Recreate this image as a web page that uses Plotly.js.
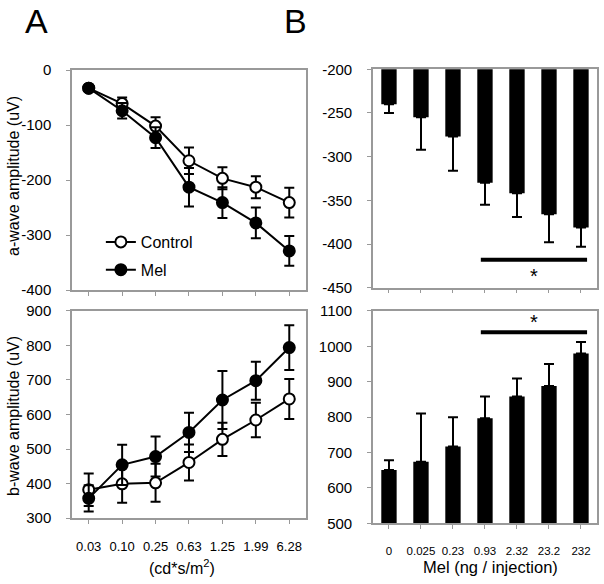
<!DOCTYPE html>
<html>
<head>
<meta charset="utf-8">
<script src="https://cdn.plot.ly/plotly-3.0.1.min.js"></script>
<style>
  html, body { margin: 0; padding: 0; background: #fff; }
  #myDiv { width: 604px; height: 584px; }
</style>
</head>
<body>
<div id="myDiv"></div>
<script>
// panel A: flash intensities
var intensity = ['0.03', '0.10', '0.25', '0.63', '1.25', '1.99', '6.28'];

var aCtrl = [-33, -61, -102, -165, -197, -213, -241];
var aCtrlErr = [5, 11, 16, 24, 20, 20, 27];
var aMel = [-33, -74, -123, -213, -241, -278, -329];
var aMelErr = [5, 14, 19, 35, 28, 28, 27];

var bCtrl = [382, 399, 402, 461, 528, 584, 645];
var bCtrlErr = [47, 55, 55, 52, 48, 50, 58];
var bMel = [357, 454, 478, 548, 642, 698, 794];
var bMelErr = [38, 58, 58, 57, 84, 55, 65];

// panel B: melatonin dose
var dose = ['0', '0.025', '0.23', '0.93', '2.32', '23.2', '232'];
var aDose = [-240, -255, -277, -330, -342, -366, -381];
var aDoseErr = [10, 37, 39, 25, 27, 32, 22];
var bDose = [651, 674, 717, 797, 858, 888, 980];
var bDoseErr = [27, 136, 83, 61, 51, 62, 32];

// significance bars (category units)
var sigFrom = 2.87, sigTo = 6.19;
var sigA = -418, sigStarA = -437;
var sigB = 1040, sigStarB = 1070;

var aTicks = [0, -100, -200, -300, -400];
var bTicks = [300, 400, 500, 600, 700, 800, 900];
var aDoseTicks = [-200, -250, -300, -350, -400, -450];
var bDoseTicks = [500, 600, 700, 800, 900, 1000, 1100];

var font = 'Liberation Sans, Arial, sans-serif';
var frame = '#999999';

function errs(arr) {
  return {type: 'data', array: arr, color: '#000', thickness: 2, width: 5};
}

var data = [
  {x: intensity, y: aCtrl, xaxis: 'x', yaxis: 'y', type: 'scatter', mode: 'lines+markers',
   name: 'Control', legendgroup: 'c', line: {color: '#000', width: 2},
   marker: {size: 11, color: '#fff', line: {color: '#000', width: 2}},
   error_y: errs(aCtrlErr)},
  {x: intensity, y: aMel, xaxis: 'x', yaxis: 'y', type: 'scatter', mode: 'lines+markers',
   name: 'Mel', legendgroup: 'm', line: {color: '#000', width: 2},
   marker: {size: 11, color: '#000', line: {color: '#000', width: 2}},
   error_y: errs(aMelErr)},
  {x: intensity, y: bCtrl, xaxis: 'x2', yaxis: 'y2', type: 'scatter', mode: 'lines+markers',
   showlegend: false, line: {color: '#000', width: 2},
   marker: {size: 11, color: '#fff', line: {color: '#000', width: 2}},
   error_y: errs(bCtrlErr)},
  {x: intensity, y: bMel, xaxis: 'x2', yaxis: 'y2', type: 'scatter', mode: 'lines+markers',
   showlegend: false, line: {color: '#000', width: 2},
   marker: {size: 11, color: '#000', line: {color: '#000', width: 2}},
   error_y: errs(bMelErr)},
  {x: dose, y: aDose, xaxis: 'x3', yaxis: 'y3', type: 'bar', showlegend: false,
   marker: {color: '#000'},
   error_y: {type: 'data', symmetric: false, array: aDose.map(function () { return 0; }),
             arrayminus: aDoseErr, color: '#000', thickness: 2, width: 5}},
  {x: dose, y: bDose, xaxis: 'x4', yaxis: 'y4', type: 'bar', showlegend: false,
   marker: {color: '#000'},
   error_y: {type: 'data', symmetric: false, array: bDoseErr,
             arrayminus: bDose.map(function () { return 0; }), color: '#000', thickness: 2, width: 5}}
];

function xax(domain, anchor, labels, showLabels, fs) {
  return {
    domain: domain, anchor: anchor, type: 'category', range: [-0.5, 6.5],
    showline: true, mirror: true, linecolor: frame, linewidth: 1.5,
    ticks: 'outside', ticklen: 4, tickcolor: frame, showgrid: false, zeroline: false,
    showticklabels: showLabels, tickvals: labels, ticktext: labels,
    tickfont: {family: font, size: fs, color: '#000'}, ticklabelstandoff: 12
  };
}
function yax(domain, anchor, range, ticks) {
  return {
    domain: domain, anchor: anchor, range: range, tickvals: ticks,
    ticktext: ticks.map(String),
    showline: true, mirror: true, linecolor: frame, linewidth: 1.5,
    ticks: 'outside', ticklen: 4, tickcolor: frame, showgrid: false, zeroline: false,
    tickfont: {family: font, size: 15, color: '#000'}, ticklabelstandoff: 12
  };
}

function label(text, px, py, size, angle) {
  return {text: text, xref: 'paper', yref: 'paper', x: px / 604, y: 1 - py / 584,
          xanchor: 'center', yanchor: 'middle', textangle: angle || 0, showarrow: false,
          font: {size: size, family: font, color: '#000'}};
}

var layout = {
  width: 604, height: 584,
  margin: {l: 0, r: 0, t: 0, b: 0},
  paper_bgcolor: '#fff', plot_bgcolor: '#fff',
  font: {family: font, color: '#000'},
  bargap: 0.52,
  xaxis: xax([0.1192, 0.5066], 'y', intensity, false, 13),
  yaxis: yax([0.5034, 0.8801], 'x', [-400, 0], aTicks),
  xaxis2: xax([0.1192, 0.5066], 'y2', intensity, true, 13),
  yaxis2: yax([0.1130, 0.4675], 'x2', [300, 900], bTicks),
  xaxis3: xax([0.6175, 0.9884], 'y3', dose, false, 11.5),
  yaxis3: yax([0.5074, 0.8813], 'x3', [-450, -200], aDoseTicks),
  xaxis4: xax([0.6175, 0.9884], 'y4', dose, true, 11.5),
  yaxis4: yax([0.1039, 0.4675], 'x4', [500, 1100], bDoseTicks),
  showlegend: true,
  legend: {x: 0.167, y: 1 - 256 / 584, xanchor: 'left', yanchor: 'middle',
           traceorder: 'grouped', tracegroupgap: 4,
           bgcolor: 'rgba(0,0,0,0)', font: {family: font, size: 16}},
  shapes: [
    {type: 'line', xref: 'x3', yref: 'y3', x0: sigFrom, x1: sigTo, y0: sigA, y1: sigA,
     line: {color: '#000', width: 4}},
    {type: 'line', xref: 'x4', yref: 'y4', x0: sigFrom, x1: sigTo, y0: sigB, y1: sigB,
     line: {color: '#000', width: 4}}
  ],
  annotations: [
    label('A', 36, 21, 34),
    label('B', 295, 21, 34),
    label('a-wave amplitude (uV)', 13, 176, 16, -90),
    label('b-wave amplitude (uV)', 13, 416, 16, -90),
    label('(cd*s/m<sup>2</sup>)', 182, 567, 16),
    label('Mel (ng / injection)', 490, 567, 16.5),
    {text: '*', xref: 'x3', yref: 'y3', x: (sigFrom + sigTo) / 2, y: sigStarA, showarrow: false,
     font: {size: 20, family: font}},
    {text: '*', xref: 'x4', yref: 'y4', x: (sigFrom + sigTo) / 2, y: sigStarB, showarrow: false,
     font: {size: 20, family: font}}
  ]
};

Plotly.newPlot('myDiv', data, layout, {displayModeBar: false});
</script>
</body>
</html>
